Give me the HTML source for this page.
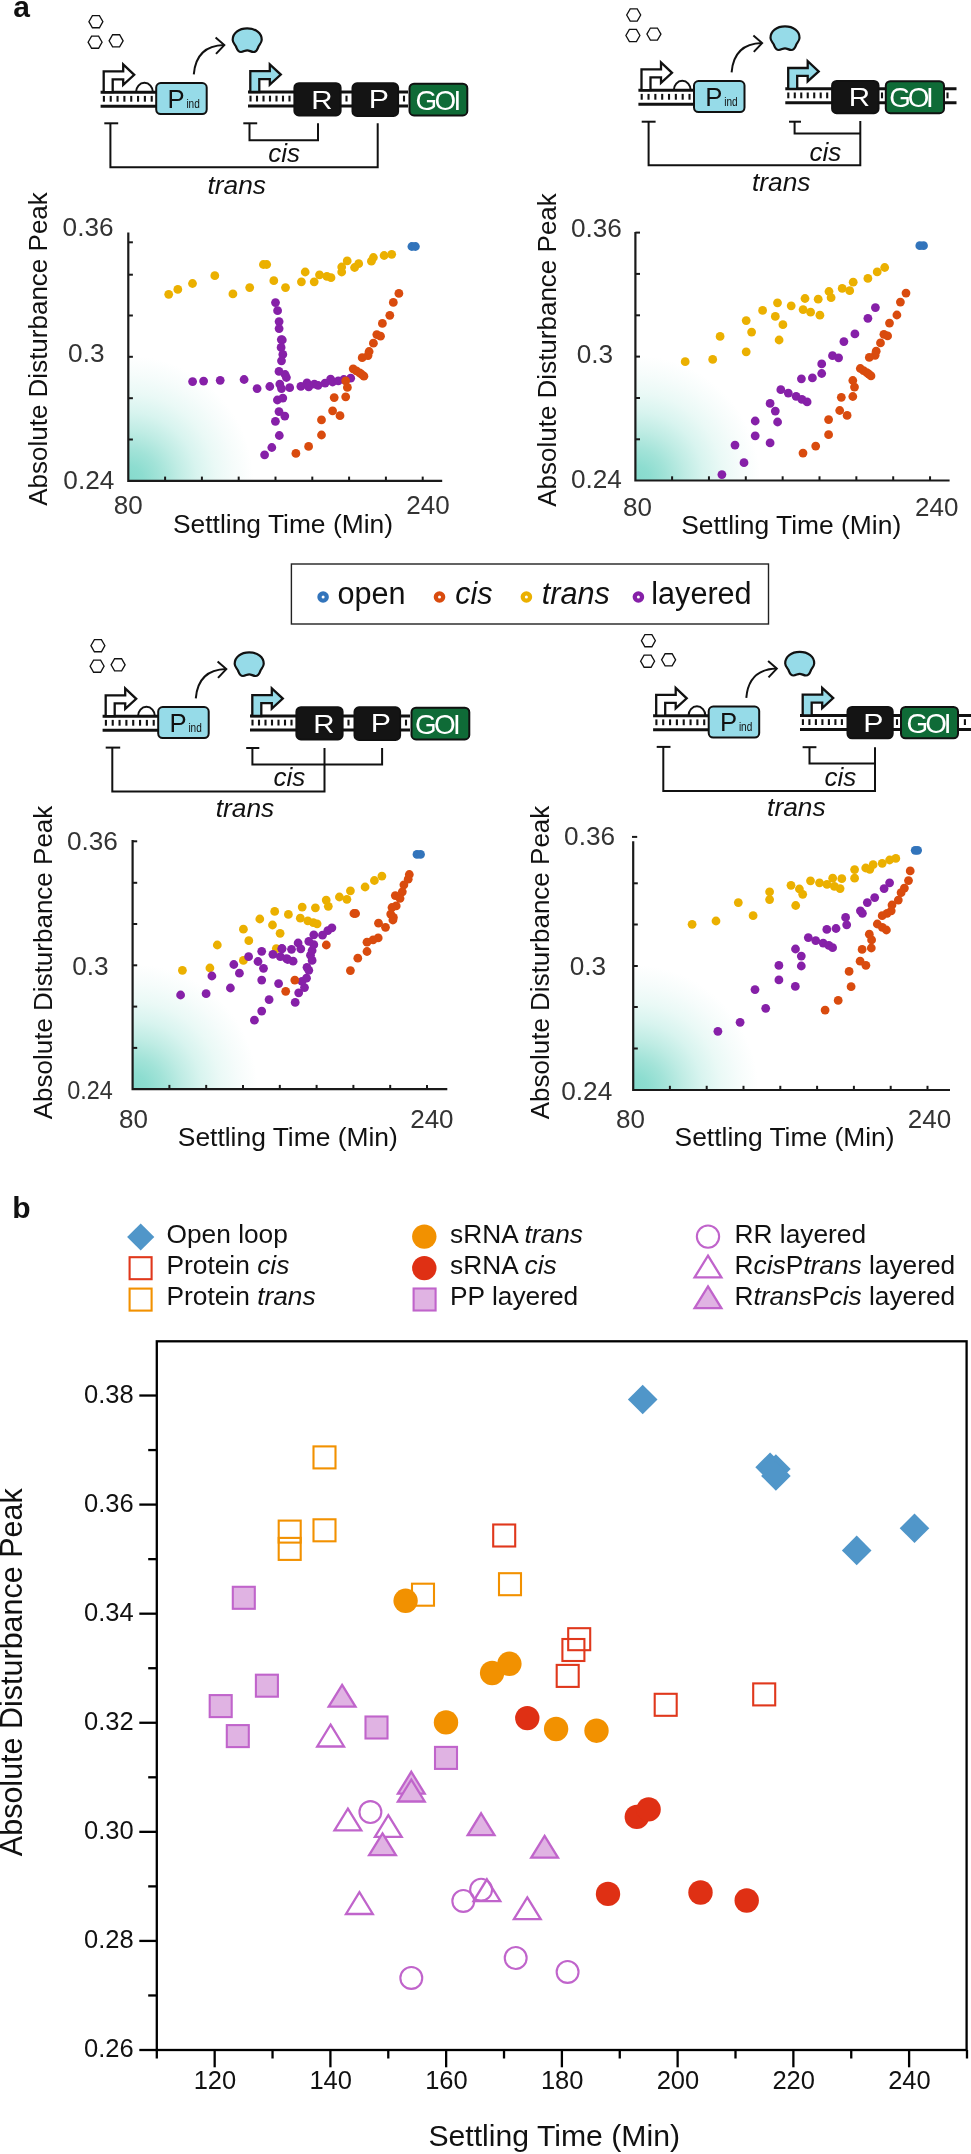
<!DOCTYPE html>
<html><head><meta charset="utf-8"><style>
html,body{margin:0;padding:0;background:#fff;}
svg{display:block;will-change:transform;}
text{font-family:"Liberation Sans", sans-serif;}
</style></head><body>
<svg width="971" height="2154" viewBox="0 0 971 2154">
<defs><radialGradient id="tg" cx="0" cy="1" r="1"><stop offset="0" stop-color="#85DACC"/><stop offset="0.12" stop-color="#8DDDD0"/><stop offset="0.25" stop-color="#A2E3D8"/><stop offset="0.4" stop-color="#BFECE4"/><stop offset="0.55" stop-color="#D8F4EF"/><stop offset="0.7" stop-color="#EAF9F6"/><stop offset="0.85" stop-color="#F6FCFB"/><stop offset="1" stop-color="#FFFFFF"/></radialGradient></defs>
<rect width="971" height="2154" fill="#fff"/>
<polygon points="102.9,21.7 99.4,27.76 92.4,27.76 88.9,21.7 92.4,15.64 99.4,15.64" fill="none" stroke="#111" stroke-width="1.3"/>
<polygon points="102.1,42.2 98.6,48.26 91.6,48.26 88.1,42.2 91.6,36.14 98.6,36.14" fill="none" stroke="#111" stroke-width="1.3"/>
<polygon points="123.1,40.8 119.6,46.86 112.6,46.86 109.1,40.8 112.6,34.74 119.6,34.74" fill="none" stroke="#111" stroke-width="1.3"/>
<line x1="100.6" y1="92.2" x2="157" y2="92.2" stroke="#111" stroke-width="2.9"/>
<line x1="100.6" y1="106.2" x2="157" y2="106.2" stroke="#111" stroke-width="2.9"/>
<rect x="102.85" y="95.9" width="2.1" height="5.8" fill="#111"/>
<rect x="109.68" y="95.9" width="2.1" height="5.8" fill="#111"/>
<rect x="116.51" y="95.9" width="2.1" height="5.8" fill="#111"/>
<rect x="123.34" y="95.9" width="2.1" height="5.8" fill="#111"/>
<rect x="130.17" y="95.9" width="2.1" height="5.8" fill="#111"/>
<rect x="137" y="95.9" width="2.1" height="5.8" fill="#111"/>
<rect x="143.83" y="95.9" width="2.1" height="5.8" fill="#111"/>
<rect x="150.66" y="95.9" width="2.1" height="5.8" fill="#111"/>
<polygon points="103.7,92.2 103.7,71.4 123.2,71.4 123.2,64.5 134.2,74.8 123.2,84.8 123.2,79.3 112.7,79.3 112.7,92.2" fill="#fff" stroke="#111" stroke-width="2.3" stroke-linejoin="miter"/>
<path d="M136,92.2 A8.45,9.4 0 0 1 152.9,92.2" fill="none" stroke="#111" stroke-width="2"/>
<rect x="156.2" y="83.1" width="50.5" height="31" rx="4.5" fill="#96DBE8" stroke="#111" stroke-width="2"/>
<text x="167.5" y="107.5" font-size="25.7" fill="#111" text-anchor="start">P</text>
<text x="186.4" y="107.5" font-size="12.9" fill="#111" text-anchor="start" textLength="13.4" lengthAdjust="spacingAndGlyphs">ind</text>
<path d="M193.8,74.3 Q196.2,45.8 224.1,45.1" fill="none" stroke="#111" stroke-width="2"/>
<path d="M215.6,37.5 L224.3,45.1 L216,53.9" fill="none" stroke="#111" stroke-width="2"/>
<path transform="translate(231.6,27.2)" d="M15.6,1.1 C23.9,1.1 30.4,5.8 30.1,12.8 C29.9,15.8 27.9,17.3 26.9,19.3 C25.9,21.8 25.4,24.8 21.9,24.8 C19.4,24.8 17.9,23.1 15.6,23.1 C13.4,23.1 11.9,24.8 9.4,24.8 C5.9,24.8 5.4,21.8 4.4,19.3 C3.4,17.3 1.2,15.8 1.1,12.8 C0.9,5.8 7.4,1.1 15.6,1.1 Z" fill="#96DBE8" stroke="#111" stroke-width="2.2"/>
<line x1="248" y1="92" x2="408" y2="92" stroke="#111" stroke-width="2.9"/>
<line x1="248" y1="106" x2="408" y2="106" stroke="#111" stroke-width="2.9"/>
<rect x="249.45" y="95.7" width="2.1" height="5.8" fill="#111"/>
<rect x="255.95" y="95.7" width="2.1" height="5.8" fill="#111"/>
<rect x="262.45" y="95.7" width="2.1" height="5.8" fill="#111"/>
<rect x="268.95" y="95.7" width="2.1" height="5.8" fill="#111"/>
<rect x="275.45" y="95.7" width="2.1" height="5.8" fill="#111"/>
<rect x="281.95" y="95.7" width="2.1" height="5.8" fill="#111"/>
<rect x="288.45" y="95.7" width="2.1" height="5.8" fill="#111"/>
<rect x="345.45" y="95.7" width="2.1" height="5.8" fill="#111"/>
<rect x="402.95" y="95.7" width="2.1" height="5.8" fill="#111"/>
<polygon points="250.3,92 250.3,71.2 269.8,71.2 269.8,64.3 280.8,74.6 269.8,84.6 269.8,79.1 259.3,79.1 259.3,92" fill="#96DBE8" stroke="#111" stroke-width="2.3" stroke-linejoin="miter"/>
<rect x="294.4" y="83.2" width="46.2" height="32.2" rx="4.5" fill="#141414" stroke="#111" stroke-width="2"/>
<text x="321.9" y="108.8" font-size="26.3" fill="#fff" text-anchor="middle" textLength="21.3" lengthAdjust="spacingAndGlyphs">R</text>
<rect x="352.5" y="83.3" width="45.6" height="32.6" rx="4.5" fill="#141414" stroke="#111" stroke-width="2"/>
<text x="378.9" y="108.3" font-size="26.3" fill="#fff" text-anchor="middle" textLength="20.2" lengthAdjust="spacingAndGlyphs">P</text>
<rect x="409.5" y="83.7" width="57.8" height="31.7" rx="4.5" fill="#0F6B37" stroke="#111" stroke-width="2"/>
<text x="438.3" y="109.7" font-size="27.8" fill="#fff" text-anchor="middle" textLength="45.8" lengthAdjust="spacing">GOI</text>
<polyline points="104.3,123.3 118.2,123.3" fill="none" stroke="#111" stroke-width="2"/>
<polyline points="110.4,123.3 110.4,167.2 377.7,167.2 377.7,123.3" fill="none" stroke="#111" stroke-width="2"/>
<polyline points="243.3,123.3 257.2,123.3" fill="none" stroke="#111" stroke-width="2"/>
<polyline points="249.5,123.3 249.5,140.3 318,140.3 318,123.3" fill="none" stroke="#111" stroke-width="2"/>
<text x="268.3" y="161.9" font-size="26" fill="#111" text-anchor="start" font-style="italic">cis</text>
<text x="207.5" y="194" font-size="26.3" fill="#111" text-anchor="start" font-style="italic">trans</text>
<polygon points="640.7,15 637.2,21.06 630.2,21.06 626.7,15 630.2,8.94 637.2,8.94" fill="none" stroke="#111" stroke-width="1.3"/>
<polygon points="639.9,35.5 636.4,41.56 629.4,41.56 625.9,35.5 629.4,29.44 636.4,29.44" fill="none" stroke="#111" stroke-width="1.3"/>
<polygon points="660.9,34.1 657.4,40.16 650.4,40.16 646.9,34.1 650.4,28.04 657.4,28.04" fill="none" stroke="#111" stroke-width="1.3"/>
<line x1="638.4" y1="90.2" x2="694.8" y2="90.2" stroke="#111" stroke-width="2.9"/>
<line x1="638.4" y1="104.2" x2="694.8" y2="104.2" stroke="#111" stroke-width="2.9"/>
<rect x="640.65" y="93.9" width="2.1" height="5.8" fill="#111"/>
<rect x="647.48" y="93.9" width="2.1" height="5.8" fill="#111"/>
<rect x="654.31" y="93.9" width="2.1" height="5.8" fill="#111"/>
<rect x="661.14" y="93.9" width="2.1" height="5.8" fill="#111"/>
<rect x="667.97" y="93.9" width="2.1" height="5.8" fill="#111"/>
<rect x="674.8" y="93.9" width="2.1" height="5.8" fill="#111"/>
<rect x="681.63" y="93.9" width="2.1" height="5.8" fill="#111"/>
<rect x="688.46" y="93.9" width="2.1" height="5.8" fill="#111"/>
<polygon points="641.5,90.2 641.5,69.4 661,69.4 661,62.5 672,72.8 661,82.8 661,77.3 650.5,77.3 650.5,90.2" fill="#fff" stroke="#111" stroke-width="2.3" stroke-linejoin="miter"/>
<path d="M673.8,90.2 A8.45,9.4 0 0 1 690.7,90.2" fill="none" stroke="#111" stroke-width="2"/>
<rect x="694" y="81.1" width="50.5" height="31" rx="4.5" fill="#96DBE8" stroke="#111" stroke-width="2"/>
<text x="705.3" y="105.5" font-size="25.7" fill="#111" text-anchor="start">P</text>
<text x="724.2" y="105.5" font-size="12.9" fill="#111" text-anchor="start" textLength="13.4" lengthAdjust="spacingAndGlyphs">ind</text>
<path d="M731.6,72.3 Q734,43.8 761.9,43.1" fill="none" stroke="#111" stroke-width="2"/>
<path d="M753.4,35.5 L762.1,43.1 L753.8,51.9" fill="none" stroke="#111" stroke-width="2"/>
<path transform="translate(769.4,25.2)" d="M15.6,1.1 C23.9,1.1 30.4,5.8 30.1,12.8 C29.9,15.8 27.9,17.3 26.9,19.3 C25.9,21.8 25.4,24.8 21.9,24.8 C19.4,24.8 17.9,23.1 15.6,23.1 C13.4,23.1 11.9,24.8 9.4,24.8 C5.9,24.8 5.4,21.8 4.4,19.3 C3.4,17.3 1.2,15.8 1.1,12.8 C0.9,5.8 7.4,1.1 15.6,1.1 Z" fill="#96DBE8" stroke="#111" stroke-width="2.2"/>
<line x1="785.3" y1="88.8" x2="956.5" y2="88.8" stroke="#111" stroke-width="2.9"/>
<line x1="785.3" y1="102.8" x2="956.5" y2="102.8" stroke="#111" stroke-width="2.9"/>
<rect x="787.25" y="92.5" width="2.1" height="5.8" fill="#111"/>
<rect x="793.73" y="92.5" width="2.1" height="5.8" fill="#111"/>
<rect x="800.21" y="92.5" width="2.1" height="5.8" fill="#111"/>
<rect x="806.69" y="92.5" width="2.1" height="5.8" fill="#111"/>
<rect x="813.17" y="92.5" width="2.1" height="5.8" fill="#111"/>
<rect x="819.65" y="92.5" width="2.1" height="5.8" fill="#111"/>
<rect x="826.13" y="92.5" width="2.1" height="5.8" fill="#111"/>
<rect x="880.95" y="92.5" width="2.1" height="5.8" fill="#111"/>
<rect x="946.45" y="92.5" width="2.1" height="5.8" fill="#111"/>
<polygon points="788.2,88.8 788.2,68 807.7,68 807.7,61.1 818.7,71.4 807.7,81.4 807.7,75.9 797.2,75.9 797.2,88.8" fill="#96DBE8" stroke="#111" stroke-width="2.3" stroke-linejoin="miter"/>
<rect x="832.1" y="81" width="46.4" height="32.2" rx="4.5" fill="#141414" stroke="#111" stroke-width="2"/>
<text x="859.4" y="106.2" font-size="26.3" fill="#fff" text-anchor="middle" textLength="21.3" lengthAdjust="spacingAndGlyphs">R</text>
<rect x="885.8" y="81.2" width="58.2" height="32" rx="4.5" fill="#0F6B37" stroke="#111" stroke-width="2"/>
<text x="911.5" y="107.2" font-size="27.8" fill="#fff" text-anchor="middle" textLength="44.6" lengthAdjust="spacing">GOI</text>
<polyline points="641.7,121.7 655.6,121.7" fill="none" stroke="#111" stroke-width="2"/>
<polyline points="648.6,121.7 648.6,165.3 860.3,165.3 860.3,121.1" fill="none" stroke="#111" stroke-width="2"/>
<polyline points="789,121.7 801,121.7" fill="none" stroke="#111" stroke-width="2"/>
<polyline points="794.6,121.7 794.6,133.6 860.3,133.6" fill="none" stroke="#111" stroke-width="2"/>
<text x="809.6" y="160.6" font-size="26" fill="#111" text-anchor="start" font-style="italic">cis</text>
<text x="752" y="191.2" font-size="26.3" fill="#111" text-anchor="start" font-style="italic">trans</text>
<polygon points="104.9,645.7 101.4,651.76 94.4,651.76 90.9,645.7 94.4,639.64 101.4,639.64" fill="none" stroke="#111" stroke-width="1.3"/>
<polygon points="104.1,666.2 100.6,672.26 93.6,672.26 90.1,666.2 93.6,660.14 100.6,660.14" fill="none" stroke="#111" stroke-width="1.3"/>
<polygon points="125.1,664.8 121.6,670.86 114.6,670.86 111.1,664.8 114.6,658.74 121.6,658.74" fill="none" stroke="#111" stroke-width="1.3"/>
<line x1="102.6" y1="716.2" x2="159" y2="716.2" stroke="#111" stroke-width="2.9"/>
<line x1="102.6" y1="730.2" x2="159" y2="730.2" stroke="#111" stroke-width="2.9"/>
<rect x="104.85" y="719.9" width="2.1" height="5.8" fill="#111"/>
<rect x="111.68" y="719.9" width="2.1" height="5.8" fill="#111"/>
<rect x="118.51" y="719.9" width="2.1" height="5.8" fill="#111"/>
<rect x="125.34" y="719.9" width="2.1" height="5.8" fill="#111"/>
<rect x="132.17" y="719.9" width="2.1" height="5.8" fill="#111"/>
<rect x="139" y="719.9" width="2.1" height="5.8" fill="#111"/>
<rect x="145.83" y="719.9" width="2.1" height="5.8" fill="#111"/>
<rect x="152.66" y="719.9" width="2.1" height="5.8" fill="#111"/>
<polygon points="105.7,716.2 105.7,695.4 125.2,695.4 125.2,688.5 136.2,698.8 125.2,708.8 125.2,703.3 114.7,703.3 114.7,716.2" fill="#fff" stroke="#111" stroke-width="2.3" stroke-linejoin="miter"/>
<path d="M138,716.2 A8.45,9.4 0 0 1 154.9,716.2" fill="none" stroke="#111" stroke-width="2"/>
<rect x="158.2" y="707.1" width="50.5" height="31" rx="4.5" fill="#96DBE8" stroke="#111" stroke-width="2"/>
<text x="169.5" y="731.5" font-size="25.7" fill="#111" text-anchor="start">P</text>
<text x="188.4" y="731.5" font-size="12.9" fill="#111" text-anchor="start" textLength="13.4" lengthAdjust="spacingAndGlyphs">ind</text>
<path d="M195.8,698.3 Q198.2,669.8 226.1,669.1" fill="none" stroke="#111" stroke-width="2"/>
<path d="M217.6,661.5 L226.3,669.1 L218,677.9" fill="none" stroke="#111" stroke-width="2"/>
<path transform="translate(233.6,651.2)" d="M15.6,1.1 C23.9,1.1 30.4,5.8 30.1,12.8 C29.9,15.8 27.9,17.3 26.9,19.3 C25.9,21.8 25.4,24.8 21.9,24.8 C19.4,24.8 17.9,23.1 15.6,23.1 C13.4,23.1 11.9,24.8 9.4,24.8 C5.9,24.8 5.4,21.8 4.4,19.3 C3.4,17.3 1.2,15.8 1.1,12.8 C0.9,5.8 7.4,1.1 15.6,1.1 Z" fill="#96DBE8" stroke="#111" stroke-width="2.2"/>
<line x1="250" y1="716" x2="410" y2="716" stroke="#111" stroke-width="2.9"/>
<line x1="250" y1="730" x2="410" y2="730" stroke="#111" stroke-width="2.9"/>
<rect x="251.45" y="719.7" width="2.1" height="5.8" fill="#111"/>
<rect x="257.95" y="719.7" width="2.1" height="5.8" fill="#111"/>
<rect x="264.45" y="719.7" width="2.1" height="5.8" fill="#111"/>
<rect x="270.95" y="719.7" width="2.1" height="5.8" fill="#111"/>
<rect x="277.45" y="719.7" width="2.1" height="5.8" fill="#111"/>
<rect x="283.95" y="719.7" width="2.1" height="5.8" fill="#111"/>
<rect x="290.45" y="719.7" width="2.1" height="5.8" fill="#111"/>
<rect x="347.45" y="719.7" width="2.1" height="5.8" fill="#111"/>
<rect x="404.95" y="719.7" width="2.1" height="5.8" fill="#111"/>
<polygon points="252.3,716 252.3,695.2 271.8,695.2 271.8,688.3 282.8,698.6 271.8,708.6 271.8,703.1 261.3,703.1 261.3,716" fill="#96DBE8" stroke="#111" stroke-width="2.3" stroke-linejoin="miter"/>
<rect x="296.4" y="707.2" width="46.2" height="32.2" rx="4.5" fill="#141414" stroke="#111" stroke-width="2"/>
<text x="323.9" y="732.8" font-size="26.3" fill="#fff" text-anchor="middle" textLength="21.3" lengthAdjust="spacingAndGlyphs">R</text>
<rect x="354.5" y="707.3" width="45.6" height="32.6" rx="4.5" fill="#141414" stroke="#111" stroke-width="2"/>
<text x="380.9" y="732.3" font-size="26.3" fill="#fff" text-anchor="middle" textLength="20.2" lengthAdjust="spacingAndGlyphs">P</text>
<rect x="411.5" y="707.7" width="57.8" height="31.7" rx="4.5" fill="#0F6B37" stroke="#111" stroke-width="2"/>
<text x="437.9" y="733.7" font-size="27.8" fill="#fff" text-anchor="middle" textLength="45.8" lengthAdjust="spacing">GOI</text>
<polyline points="105.7,747.6 120.2,747.6" fill="none" stroke="#111" stroke-width="2"/>
<polyline points="112.3,747.6 112.3,791.5 324.5,791.5 324.5,748" fill="none" stroke="#111" stroke-width="2"/>
<polyline points="246.2,748 259.3,748" fill="none" stroke="#111" stroke-width="2"/>
<polyline points="252.4,748 252.4,764.5 382.1,764.5 382.1,748" fill="none" stroke="#111" stroke-width="2"/>
<text x="273.4" y="785.8" font-size="26" fill="#111" text-anchor="start" font-style="italic">cis</text>
<text x="215.8" y="817.4" font-size="26.3" fill="#111" text-anchor="start" font-style="italic">trans</text>
<polygon points="655.4,640.7 651.9,646.76 644.9,646.76 641.4,640.7 644.9,634.64 651.9,634.64" fill="none" stroke="#111" stroke-width="1.3"/>
<polygon points="654.6,661.2 651.1,667.26 644.1,667.26 640.6,661.2 644.1,655.14 651.1,655.14" fill="none" stroke="#111" stroke-width="1.3"/>
<polygon points="675.6,659.8 672.1,665.86 665.1,665.86 661.6,659.8 665.1,653.74 672.1,653.74" fill="none" stroke="#111" stroke-width="1.3"/>
<line x1="653.1" y1="715.7" x2="709.5" y2="715.7" stroke="#111" stroke-width="2.9"/>
<line x1="653.1" y1="729.7" x2="709.5" y2="729.7" stroke="#111" stroke-width="2.9"/>
<rect x="655.35" y="719.4" width="2.1" height="5.8" fill="#111"/>
<rect x="662.18" y="719.4" width="2.1" height="5.8" fill="#111"/>
<rect x="669.01" y="719.4" width="2.1" height="5.8" fill="#111"/>
<rect x="675.84" y="719.4" width="2.1" height="5.8" fill="#111"/>
<rect x="682.67" y="719.4" width="2.1" height="5.8" fill="#111"/>
<rect x="689.5" y="719.4" width="2.1" height="5.8" fill="#111"/>
<rect x="696.33" y="719.4" width="2.1" height="5.8" fill="#111"/>
<rect x="703.16" y="719.4" width="2.1" height="5.8" fill="#111"/>
<polygon points="656.2,715.7 656.2,694.9 675.7,694.9 675.7,688 686.7,698.3 675.7,708.3 675.7,702.8 665.2,702.8 665.2,715.7" fill="#fff" stroke="#111" stroke-width="2.3" stroke-linejoin="miter"/>
<path d="M688.5,715.7 A8.45,9.4 0 0 1 705.4,715.7" fill="none" stroke="#111" stroke-width="2"/>
<rect x="708.7" y="706.6" width="50.5" height="31" rx="4.5" fill="#96DBE8" stroke="#111" stroke-width="2"/>
<text x="720" y="731" font-size="25.7" fill="#111" text-anchor="start">P</text>
<text x="738.9" y="731" font-size="12.9" fill="#111" text-anchor="start" textLength="13.4" lengthAdjust="spacingAndGlyphs">ind</text>
<path d="M746.3,697.8 Q748.7,669.3 776.6,668.6" fill="none" stroke="#111" stroke-width="2"/>
<path d="M768.1,661 L776.8,668.6 L768.5,677.4" fill="none" stroke="#111" stroke-width="2"/>
<path transform="translate(784.1,650.7)" d="M15.6,1.1 C23.9,1.1 30.4,5.8 30.1,12.8 C29.9,15.8 27.9,17.3 26.9,19.3 C25.9,21.8 25.4,24.8 21.9,24.8 C19.4,24.8 17.9,23.1 15.6,23.1 C13.4,23.1 11.9,24.8 9.4,24.8 C5.9,24.8 5.4,21.8 4.4,19.3 C3.4,17.3 1.2,15.8 1.1,12.8 C0.9,5.8 7.4,1.1 15.6,1.1 Z" fill="#96DBE8" stroke="#111" stroke-width="2.2"/>
<line x1="800" y1="715.5" x2="971" y2="715.5" stroke="#111" stroke-width="2.9"/>
<line x1="800" y1="729.5" x2="971" y2="729.5" stroke="#111" stroke-width="2.9"/>
<rect x="801.85" y="719.2" width="2.1" height="5.8" fill="#111"/>
<rect x="808.35" y="719.2" width="2.1" height="5.8" fill="#111"/>
<rect x="814.85" y="719.2" width="2.1" height="5.8" fill="#111"/>
<rect x="821.35" y="719.2" width="2.1" height="5.8" fill="#111"/>
<rect x="827.85" y="719.2" width="2.1" height="5.8" fill="#111"/>
<rect x="834.35" y="719.2" width="2.1" height="5.8" fill="#111"/>
<rect x="840.85" y="719.2" width="2.1" height="5.8" fill="#111"/>
<rect x="895.95" y="719.2" width="2.1" height="5.8" fill="#111"/>
<rect x="963.85" y="719.2" width="2.1" height="5.8" fill="#111"/>
<polygon points="802.7,715.5 802.7,694.7 822.2,694.7 822.2,687.8 833.2,698.1 822.2,708.1 822.2,702.6 811.7,702.6 811.7,715.5" fill="#96DBE8" stroke="#111" stroke-width="2.3" stroke-linejoin="miter"/>
<rect x="847.5" y="706.9" width="45.2" height="31.4" rx="4.5" fill="#141414" stroke="#111" stroke-width="2"/>
<text x="873.4" y="731.6" font-size="26.3" fill="#fff" text-anchor="middle" textLength="20.2" lengthAdjust="spacingAndGlyphs">P</text>
<rect x="901" y="706.9" width="57" height="31.4" rx="4.5" fill="#0F6B37" stroke="#111" stroke-width="2"/>
<text x="929" y="732.6" font-size="27.8" fill="#fff" text-anchor="middle" textLength="45" lengthAdjust="spacing">GOI</text>
<polyline points="656.7,746.9 670.5,746.9" fill="none" stroke="#111" stroke-width="2"/>
<polyline points="663.3,746.9 663.3,791.1 875,791.1 875,747.2" fill="none" stroke="#111" stroke-width="2"/>
<polyline points="802.6,747.2 816.4,747.2" fill="none" stroke="#111" stroke-width="2"/>
<polyline points="809.5,747.2 809.5,763.5 875,763.5" fill="none" stroke="#111" stroke-width="2"/>
<text x="824.4" y="785.6" font-size="26" fill="#111" text-anchor="start" font-style="italic">cis</text>
<text x="767.1" y="816" font-size="26.3" fill="#111" text-anchor="start" font-style="italic">trans</text>
<text x="13.3" y="17.3" font-size="30" fill="#111" text-anchor="start" font-weight="bold">a</text>
<text x="12.3" y="1217.8" font-size="30" fill="#111" text-anchor="start" font-weight="bold">b</text>
<rect x="128.3" y="355.8" width="125" height="125" fill="url(#tg)"/>
<circle cx="168.7" cy="294.3" r="4.4" fill="#EBB000"/>
<circle cx="177.8" cy="289.4" r="4.4" fill="#EBB000"/>
<circle cx="192.5" cy="283.5" r="4.4" fill="#EBB000"/>
<circle cx="214.8" cy="275.7" r="4.4" fill="#EBB000"/>
<circle cx="232.9" cy="293.9" r="4.4" fill="#EBB000"/>
<circle cx="249.7" cy="287.6" r="4.4" fill="#EBB000"/>
<circle cx="263.4" cy="264.5" r="4.4" fill="#EBB000"/>
<circle cx="266.7" cy="264.5" r="4.4" fill="#EBB000"/>
<circle cx="273.8" cy="280.7" r="4.4" fill="#EBB000"/>
<circle cx="285.5" cy="287.6" r="4.4" fill="#EBB000"/>
<circle cx="301.4" cy="281.8" r="4.4" fill="#EBB000"/>
<circle cx="305.2" cy="272" r="4.4" fill="#EBB000"/>
<circle cx="314.2" cy="281.8" r="4.4" fill="#EBB000"/>
<circle cx="319.5" cy="274.8" r="4.4" fill="#EBB000"/>
<circle cx="326.9" cy="276.4" r="4.4" fill="#EBB000"/>
<circle cx="331" cy="277.7" r="4.4" fill="#EBB000"/>
<circle cx="341.7" cy="267" r="4.4" fill="#EBB000"/>
<circle cx="341.7" cy="272" r="4.4" fill="#EBB000"/>
<circle cx="347.2" cy="260.9" r="4.4" fill="#EBB000"/>
<circle cx="354.6" cy="267.5" r="4.4" fill="#EBB000"/>
<circle cx="358.7" cy="263.7" r="4.4" fill="#EBB000"/>
<circle cx="371.4" cy="261.2" r="4.4" fill="#EBB000"/>
<circle cx="373.4" cy="257.5" r="4.4" fill="#EBB000"/>
<circle cx="384.1" cy="255.5" r="4.4" fill="#EBB000"/>
<circle cx="391.7" cy="254.3" r="4.4" fill="#EBB000"/>
<circle cx="275.5" cy="302.6" r="4.4" fill="#8620A8"/>
<circle cx="277.6" cy="310.7" r="4.4" fill="#8620A8"/>
<circle cx="279.1" cy="321.6" r="4.4" fill="#8620A8"/>
<circle cx="279.1" cy="328.6" r="4.4" fill="#8620A8"/>
<circle cx="281.3" cy="339.6" r="4.4" fill="#8620A8"/>
<circle cx="282.3" cy="340" r="4.4" fill="#8620A8"/>
<circle cx="281.1" cy="347.4" r="4.4" fill="#8620A8"/>
<circle cx="282.8" cy="354.4" r="4.4" fill="#8620A8"/>
<circle cx="281.5" cy="360.8" r="4.4" fill="#8620A8"/>
<circle cx="279" cy="371.4" r="4.4" fill="#8620A8"/>
<circle cx="285.1" cy="374.5" r="4.4" fill="#8620A8"/>
<circle cx="286.4" cy="377.5" r="4.4" fill="#8620A8"/>
<circle cx="269.8" cy="386.5" r="4.4" fill="#8620A8"/>
<circle cx="279.8" cy="384.1" r="4.4" fill="#8620A8"/>
<circle cx="281.5" cy="388.6" r="4.4" fill="#8620A8"/>
<circle cx="289.7" cy="387.7" r="4.4" fill="#8620A8"/>
<circle cx="277.4" cy="400" r="4.4" fill="#8620A8"/>
<circle cx="282.8" cy="398.1" r="4.4" fill="#8620A8"/>
<circle cx="279" cy="411.6" r="4.4" fill="#8620A8"/>
<circle cx="284.8" cy="416.1" r="4.4" fill="#8620A8"/>
<circle cx="275.4" cy="421.3" r="4.4" fill="#8620A8"/>
<circle cx="279.3" cy="435.5" r="4.4" fill="#8620A8"/>
<circle cx="271.8" cy="447.5" r="4.4" fill="#8620A8"/>
<circle cx="264.6" cy="454.8" r="4.4" fill="#8620A8"/>
<circle cx="192.6" cy="381.6" r="4.4" fill="#8620A8"/>
<circle cx="203.6" cy="381.1" r="4.4" fill="#8620A8"/>
<circle cx="220.2" cy="380.3" r="4.4" fill="#8620A8"/>
<circle cx="244.1" cy="379.5" r="4.4" fill="#8620A8"/>
<circle cx="257.1" cy="388.6" r="4.4" fill="#8620A8"/>
<circle cx="300.9" cy="386.4" r="4.4" fill="#8620A8"/>
<circle cx="307" cy="382.8" r="4.4" fill="#8620A8"/>
<circle cx="308.7" cy="386.9" r="4.4" fill="#8620A8"/>
<circle cx="314.4" cy="384.1" r="4.4" fill="#8620A8"/>
<circle cx="318.1" cy="385.3" r="4.4" fill="#8620A8"/>
<circle cx="325.1" cy="383.1" r="4.4" fill="#8620A8"/>
<circle cx="330.6" cy="379.2" r="4.4" fill="#8620A8"/>
<circle cx="332.6" cy="382" r="4.4" fill="#8620A8"/>
<circle cx="338.3" cy="380.8" r="4.4" fill="#8620A8"/>
<circle cx="343.8" cy="379.5" r="4.4" fill="#8620A8"/>
<circle cx="350.7" cy="378.2" r="4.4" fill="#8620A8"/>
<circle cx="398.9" cy="293.4" r="4.4" fill="#D94B0E"/>
<circle cx="393.3" cy="302.4" r="4.4" fill="#D94B0E"/>
<circle cx="389.8" cy="315.3" r="4.4" fill="#D94B0E"/>
<circle cx="382.4" cy="323.4" r="4.4" fill="#D94B0E"/>
<circle cx="376.8" cy="334.6" r="4.4" fill="#D94B0E"/>
<circle cx="380.5" cy="336.2" r="4.4" fill="#D94B0E"/>
<circle cx="373.4" cy="343.2" r="4.4" fill="#D94B0E"/>
<circle cx="369.1" cy="351.5" r="4.4" fill="#D94B0E"/>
<circle cx="368" cy="355.6" r="4.4" fill="#D94B0E"/>
<circle cx="362.2" cy="357.7" r="4.4" fill="#D94B0E"/>
<circle cx="353.2" cy="368.8" r="4.4" fill="#D94B0E"/>
<circle cx="359.7" cy="372.9" r="4.4" fill="#D94B0E"/>
<circle cx="363.9" cy="376.2" r="4.4" fill="#D94B0E"/>
<circle cx="356.4" cy="370.9" r="4.4" fill="#D94B0E"/>
<circle cx="361.8" cy="374.5" r="4.4" fill="#D94B0E"/>
<circle cx="345.7" cy="380.8" r="4.4" fill="#D94B0E"/>
<circle cx="347.4" cy="387.4" r="4.4" fill="#D94B0E"/>
<circle cx="334.2" cy="397.6" r="4.4" fill="#D94B0E"/>
<circle cx="345.7" cy="396.8" r="4.4" fill="#D94B0E"/>
<circle cx="332.6" cy="410.8" r="4.4" fill="#D94B0E"/>
<circle cx="340" cy="415.7" r="4.4" fill="#D94B0E"/>
<circle cx="321.5" cy="419.9" r="4.4" fill="#D94B0E"/>
<circle cx="321.5" cy="435" r="4.4" fill="#D94B0E"/>
<circle cx="308.6" cy="446.4" r="4.4" fill="#D94B0E"/>
<circle cx="295.9" cy="453.4" r="4.4" fill="#D94B0E"/>
<circle cx="411.9" cy="246.5" r="4.4" fill="#3274BB"/>
<circle cx="415.4" cy="246.5" r="4.4" fill="#3274BB"/>
<path d="M128.3,232.5 V480.8 H442.2" fill="none" stroke="#1a1a1a" stroke-width="2.2"/>
<line x1="128.3" y1="242.3" x2="132.9" y2="242.3" stroke="#1a1a1a" stroke-width="2"/>
<line x1="128.3" y1="274.7" x2="132.9" y2="274.7" stroke="#1a1a1a" stroke-width="2"/>
<line x1="128.3" y1="315.5" x2="132.9" y2="315.5" stroke="#1a1a1a" stroke-width="2"/>
<line x1="128.3" y1="356.8" x2="132.9" y2="356.8" stroke="#1a1a1a" stroke-width="2"/>
<line x1="128.3" y1="398.2" x2="132.9" y2="398.2" stroke="#1a1a1a" stroke-width="2"/>
<line x1="128.3" y1="439.5" x2="132.9" y2="439.5" stroke="#1a1a1a" stroke-width="2"/>
<line x1="165.1" y1="480.8" x2="165.1" y2="476.6" stroke="#1a1a1a" stroke-width="2"/>
<line x1="201.9" y1="480.8" x2="201.9" y2="476.6" stroke="#1a1a1a" stroke-width="2"/>
<line x1="238.7" y1="480.8" x2="238.7" y2="476.6" stroke="#1a1a1a" stroke-width="2"/>
<line x1="275.5" y1="480.8" x2="275.5" y2="476.6" stroke="#1a1a1a" stroke-width="2"/>
<line x1="312.3" y1="480.8" x2="312.3" y2="476.6" stroke="#1a1a1a" stroke-width="2"/>
<line x1="349.1" y1="480.8" x2="349.1" y2="476.6" stroke="#1a1a1a" stroke-width="2"/>
<line x1="385.9" y1="480.8" x2="385.9" y2="476.6" stroke="#1a1a1a" stroke-width="2"/>
<line x1="422.7" y1="480.8" x2="422.7" y2="476.6" stroke="#1a1a1a" stroke-width="2"/>
<text x="88.05" y="236.1" font-size="26.2" fill="#333" text-anchor="middle">0.36</text>
<text x="86.3" y="361.8" font-size="26.2" fill="#333" text-anchor="middle">0.3</text>
<text x="88.8" y="488.5" font-size="26.2" fill="#333" text-anchor="middle">0.24</text>
<text x="128.2" y="513.9" font-size="26" fill="#333" text-anchor="middle">80</text>
<text x="428" y="514.4" font-size="26" fill="#333" text-anchor="middle">240</text>
<text x="283" y="533.2" font-size="26.4" fill="#111" text-anchor="middle">Settling Time (Min)</text>
<text x="0" y="0" font-size="26" fill="#111" text-anchor="middle" transform="translate(47.2,349) rotate(-90)">Absolute Disturbance Peak</text>
<rect x="635.4" y="355.5" width="125" height="125" fill="url(#tg)"/>
<circle cx="685.2" cy="361.7" r="4.4" fill="#EBB000"/>
<circle cx="712.7" cy="359.4" r="4.4" fill="#EBB000"/>
<circle cx="720.1" cy="336.4" r="4.4" fill="#EBB000"/>
<circle cx="746.2" cy="320.6" r="4.4" fill="#EBB000"/>
<circle cx="746.2" cy="351.8" r="4.4" fill="#EBB000"/>
<circle cx="751.6" cy="332.1" r="4.4" fill="#EBB000"/>
<circle cx="762.6" cy="310.4" r="4.4" fill="#EBB000"/>
<circle cx="777.5" cy="302.8" r="4.4" fill="#EBB000"/>
<circle cx="775.3" cy="316.4" r="4.4" fill="#EBB000"/>
<circle cx="782.9" cy="324.7" r="4.4" fill="#EBB000"/>
<circle cx="779.1" cy="340" r="4.4" fill="#EBB000"/>
<circle cx="791.2" cy="305.8" r="4.4" fill="#EBB000"/>
<circle cx="805" cy="298.5" r="4.4" fill="#EBB000"/>
<circle cx="803.1" cy="309.6" r="4.4" fill="#EBB000"/>
<circle cx="810.6" cy="312.2" r="4.4" fill="#EBB000"/>
<circle cx="818.2" cy="299.2" r="4.4" fill="#EBB000"/>
<circle cx="819.9" cy="315.2" r="4.4" fill="#EBB000"/>
<circle cx="829" cy="291.5" r="4.4" fill="#EBB000"/>
<circle cx="831.1" cy="297.7" r="4.4" fill="#EBB000"/>
<circle cx="842.2" cy="288.4" r="4.4" fill="#EBB000"/>
<circle cx="849.7" cy="290.7" r="4.4" fill="#EBB000"/>
<circle cx="853.2" cy="282.2" r="4.4" fill="#EBB000"/>
<circle cx="867.9" cy="278.4" r="4.4" fill="#EBB000"/>
<circle cx="877.2" cy="271.9" r="4.4" fill="#EBB000"/>
<circle cx="884.7" cy="267.5" r="4.4" fill="#EBB000"/>
<circle cx="875.4" cy="307.6" r="4.4" fill="#8620A8"/>
<circle cx="867.9" cy="318.3" r="4.4" fill="#8620A8"/>
<circle cx="854.9" cy="333.9" r="4.4" fill="#8620A8"/>
<circle cx="843.9" cy="341.6" r="4.4" fill="#8620A8"/>
<circle cx="832.5" cy="355.7" r="4.4" fill="#8620A8"/>
<circle cx="838.6" cy="357.8" r="4.4" fill="#8620A8"/>
<circle cx="821.7" cy="363.9" r="4.4" fill="#8620A8"/>
<circle cx="821.7" cy="373.5" r="4.4" fill="#8620A8"/>
<circle cx="812.4" cy="377.9" r="4.4" fill="#8620A8"/>
<circle cx="801.4" cy="378.8" r="4.4" fill="#8620A8"/>
<circle cx="780.8" cy="389.7" r="4.4" fill="#8620A8"/>
<circle cx="788.3" cy="393.1" r="4.4" fill="#8620A8"/>
<circle cx="796.1" cy="396.3" r="4.4" fill="#8620A8"/>
<circle cx="801.9" cy="399.4" r="4.4" fill="#8620A8"/>
<circle cx="807.1" cy="401.9" r="4.4" fill="#8620A8"/>
<circle cx="770.1" cy="403.4" r="4.4" fill="#8620A8"/>
<circle cx="775.3" cy="411.1" r="4.4" fill="#8620A8"/>
<circle cx="755.2" cy="421" r="4.4" fill="#8620A8"/>
<circle cx="777.6" cy="422" r="4.4" fill="#8620A8"/>
<circle cx="755.2" cy="435.8" r="4.4" fill="#8620A8"/>
<circle cx="770.1" cy="442.9" r="4.4" fill="#8620A8"/>
<circle cx="735" cy="445.1" r="4.4" fill="#8620A8"/>
<circle cx="744" cy="462.7" r="4.4" fill="#8620A8"/>
<circle cx="721.9" cy="474.6" r="4.4" fill="#8620A8"/>
<circle cx="906" cy="293.1" r="4.4" fill="#D94B0E"/>
<circle cx="900.4" cy="302.1" r="4.4" fill="#D94B0E"/>
<circle cx="896.9" cy="315" r="4.4" fill="#D94B0E"/>
<circle cx="889.5" cy="323.1" r="4.4" fill="#D94B0E"/>
<circle cx="883.9" cy="334.3" r="4.4" fill="#D94B0E"/>
<circle cx="887.6" cy="335.9" r="4.4" fill="#D94B0E"/>
<circle cx="880.5" cy="342.9" r="4.4" fill="#D94B0E"/>
<circle cx="876.2" cy="351.2" r="4.4" fill="#D94B0E"/>
<circle cx="875.1" cy="355.3" r="4.4" fill="#D94B0E"/>
<circle cx="869.3" cy="357.4" r="4.4" fill="#D94B0E"/>
<circle cx="860.3" cy="368.5" r="4.4" fill="#D94B0E"/>
<circle cx="866.8" cy="372.6" r="4.4" fill="#D94B0E"/>
<circle cx="871" cy="375.9" r="4.4" fill="#D94B0E"/>
<circle cx="863.5" cy="370.6" r="4.4" fill="#D94B0E"/>
<circle cx="868.9" cy="374.2" r="4.4" fill="#D94B0E"/>
<circle cx="852.8" cy="380.5" r="4.4" fill="#D94B0E"/>
<circle cx="854.5" cy="387.1" r="4.4" fill="#D94B0E"/>
<circle cx="841.3" cy="397.3" r="4.4" fill="#D94B0E"/>
<circle cx="852.8" cy="396.5" r="4.4" fill="#D94B0E"/>
<circle cx="839.7" cy="410.5" r="4.4" fill="#D94B0E"/>
<circle cx="847.1" cy="415.4" r="4.4" fill="#D94B0E"/>
<circle cx="828.6" cy="419.6" r="4.4" fill="#D94B0E"/>
<circle cx="828.6" cy="434.7" r="4.4" fill="#D94B0E"/>
<circle cx="815.7" cy="446.1" r="4.4" fill="#D94B0E"/>
<circle cx="803" cy="453.1" r="4.4" fill="#D94B0E"/>
<circle cx="919.8" cy="245.7" r="4.4" fill="#3274BB"/>
<circle cx="923.5" cy="245.7" r="4.4" fill="#3274BB"/>
<path d="M635.4,232 V480.5 H949.6" fill="none" stroke="#1a1a1a" stroke-width="2.2"/>
<line x1="635.4" y1="232.6" x2="640" y2="232.6" stroke="#1a1a1a" stroke-width="2"/>
<line x1="635.4" y1="273.9" x2="640" y2="273.9" stroke="#1a1a1a" stroke-width="2"/>
<line x1="635.4" y1="315.3" x2="640" y2="315.3" stroke="#1a1a1a" stroke-width="2"/>
<line x1="635.4" y1="356.6" x2="640" y2="356.6" stroke="#1a1a1a" stroke-width="2"/>
<line x1="635.4" y1="398" x2="640" y2="398" stroke="#1a1a1a" stroke-width="2"/>
<line x1="635.4" y1="439.3" x2="640" y2="439.3" stroke="#1a1a1a" stroke-width="2"/>
<line x1="672.1" y1="480.5" x2="672.1" y2="476.3" stroke="#1a1a1a" stroke-width="2"/>
<line x1="708.95" y1="480.5" x2="708.95" y2="476.3" stroke="#1a1a1a" stroke-width="2"/>
<line x1="745.8" y1="480.5" x2="745.8" y2="476.3" stroke="#1a1a1a" stroke-width="2"/>
<line x1="782.65" y1="480.5" x2="782.65" y2="476.3" stroke="#1a1a1a" stroke-width="2"/>
<line x1="819.5" y1="480.5" x2="819.5" y2="476.3" stroke="#1a1a1a" stroke-width="2"/>
<line x1="856.35" y1="480.5" x2="856.35" y2="476.3" stroke="#1a1a1a" stroke-width="2"/>
<line x1="893.2" y1="480.5" x2="893.2" y2="476.3" stroke="#1a1a1a" stroke-width="2"/>
<line x1="930.05" y1="480.5" x2="930.05" y2="476.3" stroke="#1a1a1a" stroke-width="2"/>
<text x="596.45" y="237.4" font-size="26.2" fill="#333" text-anchor="middle">0.36</text>
<text x="594.95" y="363" font-size="26.2" fill="#333" text-anchor="middle">0.3</text>
<text x="596.45" y="488.4" font-size="26.2" fill="#333" text-anchor="middle">0.24</text>
<text x="637.5" y="515.6" font-size="26" fill="#333" text-anchor="middle">80</text>
<text x="936.8" y="516.2" font-size="26" fill="#333" text-anchor="middle">240</text>
<text x="791.2" y="533.5" font-size="26.4" fill="#111" text-anchor="middle">Settling Time (Min)</text>
<text x="0" y="0" font-size="26" fill="#111" text-anchor="middle" transform="translate(555.7,350) rotate(-90)">Absolute Disturbance Peak</text>
<rect x="132.6" y="964.1" width="125" height="125" fill="url(#tg)"/>
<circle cx="182.4" cy="970.3" r="4.4" fill="#EBB000"/>
<circle cx="209.9" cy="968" r="4.4" fill="#EBB000"/>
<circle cx="217.3" cy="945" r="4.4" fill="#EBB000"/>
<circle cx="243.4" cy="929.2" r="4.4" fill="#EBB000"/>
<circle cx="243.4" cy="960.4" r="4.4" fill="#EBB000"/>
<circle cx="248.8" cy="940.7" r="4.4" fill="#EBB000"/>
<circle cx="259.8" cy="919" r="4.4" fill="#EBB000"/>
<circle cx="274.7" cy="911.4" r="4.4" fill="#EBB000"/>
<circle cx="272.5" cy="925" r="4.4" fill="#EBB000"/>
<circle cx="280.1" cy="933.3" r="4.4" fill="#EBB000"/>
<circle cx="276.3" cy="948.6" r="4.4" fill="#EBB000"/>
<circle cx="288.4" cy="914.4" r="4.4" fill="#EBB000"/>
<circle cx="302.2" cy="907.1" r="4.4" fill="#EBB000"/>
<circle cx="300.3" cy="918.2" r="4.4" fill="#EBB000"/>
<circle cx="307.8" cy="920.8" r="4.4" fill="#EBB000"/>
<circle cx="315.4" cy="907.8" r="4.4" fill="#EBB000"/>
<circle cx="317.1" cy="923.8" r="4.4" fill="#EBB000"/>
<circle cx="326.2" cy="900.1" r="4.4" fill="#EBB000"/>
<circle cx="328.3" cy="906.3" r="4.4" fill="#EBB000"/>
<circle cx="339.4" cy="897" r="4.4" fill="#EBB000"/>
<circle cx="346.9" cy="899.3" r="4.4" fill="#EBB000"/>
<circle cx="350.4" cy="890.8" r="4.4" fill="#EBB000"/>
<circle cx="365.1" cy="887" r="4.4" fill="#EBB000"/>
<circle cx="374.4" cy="880.5" r="4.4" fill="#EBB000"/>
<circle cx="381.9" cy="876.1" r="4.4" fill="#EBB000"/>
<circle cx="313.3" cy="922.6" r="4.4" fill="#EBB000"/>
<circle cx="180.6" cy="995" r="4.4" fill="#8620A8"/>
<circle cx="206.1" cy="993.7" r="4.4" fill="#8620A8"/>
<circle cx="211.9" cy="976" r="4.4" fill="#8620A8"/>
<circle cx="230.4" cy="988" r="4.4" fill="#8620A8"/>
<circle cx="233.8" cy="964.5" r="4.4" fill="#8620A8"/>
<circle cx="239.4" cy="973.2" r="4.4" fill="#8620A8"/>
<circle cx="248.6" cy="956.7" r="4.4" fill="#8620A8"/>
<circle cx="258" cy="961.5" r="4.4" fill="#8620A8"/>
<circle cx="261.7" cy="951.3" r="4.4" fill="#8620A8"/>
<circle cx="263.5" cy="968.3" r="4.4" fill="#8620A8"/>
<circle cx="261.7" cy="980.1" r="4.4" fill="#8620A8"/>
<circle cx="269.1" cy="999.6" r="4.4" fill="#8620A8"/>
<circle cx="261.7" cy="1011.1" r="4.4" fill="#8620A8"/>
<circle cx="254.4" cy="1020.2" r="4.4" fill="#8620A8"/>
<circle cx="272.9" cy="954.3" r="4.4" fill="#8620A8"/>
<circle cx="278.6" cy="983.6" r="4.4" fill="#8620A8"/>
<circle cx="281.9" cy="948.5" r="4.4" fill="#8620A8"/>
<circle cx="280.3" cy="956.6" r="4.4" fill="#8620A8"/>
<circle cx="287.7" cy="959.5" r="4.4" fill="#8620A8"/>
<circle cx="293.1" cy="961.2" r="4.4" fill="#8620A8"/>
<circle cx="291.5" cy="949.3" r="4.4" fill="#8620A8"/>
<circle cx="298.1" cy="943" r="4.4" fill="#8620A8"/>
<circle cx="300.8" cy="948.8" r="4.4" fill="#8620A8"/>
<circle cx="295.2" cy="1002.4" r="4.4" fill="#8620A8"/>
<circle cx="298.7" cy="992.8" r="4.4" fill="#8620A8"/>
<circle cx="304.5" cy="987.6" r="4.4" fill="#8620A8"/>
<circle cx="302" cy="981.4" r="4.4" fill="#8620A8"/>
<circle cx="306.5" cy="978.2" r="4.4" fill="#8620A8"/>
<circle cx="308.8" cy="970.3" r="4.4" fill="#8620A8"/>
<circle cx="307" cy="967.3" r="4.4" fill="#8620A8"/>
<circle cx="312.1" cy="960.4" r="4.4" fill="#8620A8"/>
<circle cx="310.5" cy="955.2" r="4.4" fill="#8620A8"/>
<circle cx="312.1" cy="950.5" r="4.4" fill="#8620A8"/>
<circle cx="313.8" cy="944.7" r="4.4" fill="#8620A8"/>
<circle cx="308.8" cy="941.4" r="4.4" fill="#8620A8"/>
<circle cx="313.8" cy="934.8" r="4.4" fill="#8620A8"/>
<circle cx="322.5" cy="935.2" r="4.4" fill="#8620A8"/>
<circle cx="327.8" cy="930.6" r="4.4" fill="#8620A8"/>
<circle cx="331.9" cy="927.8" r="4.4" fill="#8620A8"/>
<circle cx="282" cy="948.8" r="4.4" fill="#8620A8"/>
<circle cx="286.6" cy="958.7" r="4.4" fill="#8620A8"/>
<circle cx="409.3" cy="874.5" r="4.4" fill="#D94B0E"/>
<circle cx="408.2" cy="879.2" r="4.4" fill="#D94B0E"/>
<circle cx="403.9" cy="884.8" r="4.4" fill="#D94B0E"/>
<circle cx="402.3" cy="891.8" r="4.4" fill="#D94B0E"/>
<circle cx="395.3" cy="895.6" r="4.4" fill="#D94B0E"/>
<circle cx="400" cy="898.4" r="4.4" fill="#D94B0E"/>
<circle cx="396.2" cy="905.9" r="4.4" fill="#D94B0E"/>
<circle cx="392" cy="907.5" r="4.4" fill="#D94B0E"/>
<circle cx="390.7" cy="914.1" r="4.4" fill="#D94B0E"/>
<circle cx="393.4" cy="917.4" r="4.4" fill="#D94B0E"/>
<circle cx="353.9" cy="913.5" r="4.4" fill="#D94B0E"/>
<circle cx="355.6" cy="913.5" r="4.4" fill="#D94B0E"/>
<circle cx="378.5" cy="923.2" r="4.4" fill="#D94B0E"/>
<circle cx="385.5" cy="927.3" r="4.4" fill="#D94B0E"/>
<circle cx="378.2" cy="937.9" r="4.4" fill="#D94B0E"/>
<circle cx="373.1" cy="939.8" r="4.4" fill="#D94B0E"/>
<circle cx="367" cy="942.2" r="4.4" fill="#D94B0E"/>
<circle cx="367" cy="951.5" r="4.4" fill="#D94B0E"/>
<circle cx="357.8" cy="958.2" r="4.4" fill="#D94B0E"/>
<circle cx="350.4" cy="970.6" r="4.4" fill="#D94B0E"/>
<circle cx="326.3" cy="945" r="4.4" fill="#D94B0E"/>
<circle cx="294.8" cy="980.1" r="4.4" fill="#D94B0E"/>
<circle cx="285.7" cy="991.3" r="4.4" fill="#D94B0E"/>
<circle cx="392.9" cy="920" r="4.4" fill="#D94B0E"/>
<circle cx="417" cy="854.4" r="4.4" fill="#3274BB"/>
<circle cx="420.5" cy="854.4" r="4.4" fill="#3274BB"/>
<path d="M132.6,840.1 V1089.1 H447.3" fill="none" stroke="#1a1a1a" stroke-width="2.2"/>
<line x1="132.6" y1="841.3" x2="137.2" y2="841.3" stroke="#1a1a1a" stroke-width="2"/>
<line x1="132.6" y1="882.8" x2="137.2" y2="882.8" stroke="#1a1a1a" stroke-width="2"/>
<line x1="132.6" y1="924" x2="137.2" y2="924" stroke="#1a1a1a" stroke-width="2"/>
<line x1="132.6" y1="965.3" x2="137.2" y2="965.3" stroke="#1a1a1a" stroke-width="2"/>
<line x1="132.6" y1="1006.6" x2="137.2" y2="1006.6" stroke="#1a1a1a" stroke-width="2"/>
<line x1="132.6" y1="1047.9" x2="137.2" y2="1047.9" stroke="#1a1a1a" stroke-width="2"/>
<line x1="169.4" y1="1089.1" x2="169.4" y2="1084.9" stroke="#1a1a1a" stroke-width="2"/>
<line x1="206.2" y1="1089.1" x2="206.2" y2="1084.9" stroke="#1a1a1a" stroke-width="2"/>
<line x1="243" y1="1089.1" x2="243" y2="1084.9" stroke="#1a1a1a" stroke-width="2"/>
<line x1="279.8" y1="1089.1" x2="279.8" y2="1084.9" stroke="#1a1a1a" stroke-width="2"/>
<line x1="316.6" y1="1089.1" x2="316.6" y2="1084.9" stroke="#1a1a1a" stroke-width="2"/>
<line x1="353.4" y1="1089.1" x2="353.4" y2="1084.9" stroke="#1a1a1a" stroke-width="2"/>
<line x1="390.2" y1="1089.1" x2="390.2" y2="1084.9" stroke="#1a1a1a" stroke-width="2"/>
<line x1="427" y1="1089.1" x2="427" y2="1084.9" stroke="#1a1a1a" stroke-width="2"/>
<text x="92.4" y="849.8" font-size="26.2" fill="#333" text-anchor="middle">0.36</text>
<text x="90.4" y="975.4" font-size="26.2" fill="#333" text-anchor="middle">0.3</text>
<text x="90" y="1099.2" font-size="26.2" fill="#333" text-anchor="middle" textLength="45.6" lengthAdjust="spacingAndGlyphs">0.24</text>
<text x="133.4" y="1127.9" font-size="26" fill="#333" text-anchor="middle">80</text>
<text x="431.9" y="1128.4" font-size="26" fill="#333" text-anchor="middle">240</text>
<text x="287.8" y="1146" font-size="26.4" fill="#111" text-anchor="middle">Settling Time (Min)</text>
<text x="0" y="0" font-size="26" fill="#111" text-anchor="middle" transform="translate(51.7,962.5) rotate(-90)">Absolute Disturbance Peak</text>
<rect x="633.2" y="965" width="125" height="125" fill="url(#tg)"/>
<circle cx="692.1" cy="924.3" r="4.4" fill="#EBB000"/>
<circle cx="716" cy="921" r="4.4" fill="#EBB000"/>
<circle cx="738.3" cy="902.6" r="4.4" fill="#EBB000"/>
<circle cx="753.1" cy="915.7" r="4.4" fill="#EBB000"/>
<circle cx="769.6" cy="891.8" r="4.4" fill="#EBB000"/>
<circle cx="769.6" cy="899.6" r="4.4" fill="#EBB000"/>
<circle cx="791" cy="885.3" r="4.4" fill="#EBB000"/>
<circle cx="799.4" cy="889" r="4.4" fill="#EBB000"/>
<circle cx="802.7" cy="894.3" r="4.4" fill="#EBB000"/>
<circle cx="795.7" cy="905.5" r="4.4" fill="#EBB000"/>
<circle cx="810.5" cy="880.8" r="4.4" fill="#EBB000"/>
<circle cx="819.5" cy="882.8" r="4.4" fill="#EBB000"/>
<circle cx="827" cy="884.4" r="4.4" fill="#EBB000"/>
<circle cx="832.7" cy="878.2" r="4.4" fill="#EBB000"/>
<circle cx="834.4" cy="886.4" r="4.4" fill="#EBB000"/>
<circle cx="840.1" cy="888.6" r="4.4" fill="#EBB000"/>
<circle cx="841.8" cy="878.7" r="4.4" fill="#EBB000"/>
<circle cx="854.6" cy="869.6" r="4.4" fill="#EBB000"/>
<circle cx="854.6" cy="878.2" r="4.4" fill="#EBB000"/>
<circle cx="865.7" cy="868" r="4.4" fill="#EBB000"/>
<circle cx="869.8" cy="869.3" r="4.4" fill="#EBB000"/>
<circle cx="873.1" cy="864.7" r="4.4" fill="#EBB000"/>
<circle cx="882.2" cy="863.3" r="4.4" fill="#EBB000"/>
<circle cx="889.6" cy="860" r="4.4" fill="#EBB000"/>
<circle cx="895.8" cy="858.4" r="4.4" fill="#EBB000"/>
<circle cx="889.6" cy="882.8" r="4.4" fill="#8620A8"/>
<circle cx="884.1" cy="888.6" r="4.4" fill="#8620A8"/>
<circle cx="874.7" cy="897.6" r="4.4" fill="#8620A8"/>
<circle cx="867.3" cy="902.6" r="4.4" fill="#8620A8"/>
<circle cx="860.4" cy="910.8" r="4.4" fill="#8620A8"/>
<circle cx="862.4" cy="913.3" r="4.4" fill="#8620A8"/>
<circle cx="845.6" cy="917.4" r="4.4" fill="#8620A8"/>
<circle cx="846.7" cy="924.8" r="4.4" fill="#8620A8"/>
<circle cx="836" cy="928.5" r="4.4" fill="#8620A8"/>
<circle cx="826.8" cy="929.4" r="4.4" fill="#8620A8"/>
<circle cx="808.3" cy="937.6" r="4.4" fill="#8620A8"/>
<circle cx="815.7" cy="940.6" r="4.4" fill="#8620A8"/>
<circle cx="823.2" cy="943.1" r="4.4" fill="#8620A8"/>
<circle cx="828.8" cy="945.4" r="4.4" fill="#8620A8"/>
<circle cx="832.6" cy="947.7" r="4.4" fill="#8620A8"/>
<circle cx="795.5" cy="949" r="4.4" fill="#8620A8"/>
<circle cx="801.3" cy="956.1" r="4.4" fill="#8620A8"/>
<circle cx="801.3" cy="966" r="4.4" fill="#8620A8"/>
<circle cx="778.9" cy="965.4" r="4.4" fill="#8620A8"/>
<circle cx="778.9" cy="979.9" r="4.4" fill="#8620A8"/>
<circle cx="795.3" cy="986.4" r="4.4" fill="#8620A8"/>
<circle cx="755" cy="989.6" r="4.4" fill="#8620A8"/>
<circle cx="765.7" cy="1008.3" r="4.4" fill="#8620A8"/>
<circle cx="740.1" cy="1022.3" r="4.4" fill="#8620A8"/>
<circle cx="717.9" cy="1031.3" r="4.4" fill="#8620A8"/>
<circle cx="910.2" cy="870.9" r="4.4" fill="#D94B0E"/>
<circle cx="908.5" cy="880.6" r="4.4" fill="#D94B0E"/>
<circle cx="904.4" cy="888.1" r="4.4" fill="#D94B0E"/>
<circle cx="901.1" cy="892.7" r="4.4" fill="#D94B0E"/>
<circle cx="898.3" cy="900.1" r="4.4" fill="#D94B0E"/>
<circle cx="892" cy="905" r="4.4" fill="#D94B0E"/>
<circle cx="891.2" cy="910.8" r="4.4" fill="#D94B0E"/>
<circle cx="887.1" cy="913.3" r="4.4" fill="#D94B0E"/>
<circle cx="882.2" cy="915.7" r="4.4" fill="#D94B0E"/>
<circle cx="877.3" cy="924" r="4.4" fill="#D94B0E"/>
<circle cx="882.3" cy="927.3" r="4.4" fill="#D94B0E"/>
<circle cx="886.4" cy="930" r="4.4" fill="#D94B0E"/>
<circle cx="869.3" cy="934.2" r="4.4" fill="#D94B0E"/>
<circle cx="871.6" cy="939.9" r="4.4" fill="#D94B0E"/>
<circle cx="871.3" cy="948" r="4.4" fill="#D94B0E"/>
<circle cx="862.1" cy="949.4" r="4.4" fill="#D94B0E"/>
<circle cx="860.1" cy="961.2" r="4.4" fill="#D94B0E"/>
<circle cx="865.9" cy="965.3" r="4.4" fill="#D94B0E"/>
<circle cx="849.1" cy="971.4" r="4.4" fill="#D94B0E"/>
<circle cx="851.1" cy="986.7" r="4.4" fill="#D94B0E"/>
<circle cx="838.2" cy="1000.4" r="4.4" fill="#D94B0E"/>
<circle cx="825.1" cy="1010.1" r="4.4" fill="#D94B0E"/>
<circle cx="915.2" cy="850.3" r="4.4" fill="#3274BB"/>
<circle cx="917.6" cy="850.3" r="4.4" fill="#3274BB"/>
<path d="M633.2,841.3 V1090 H950" fill="none" stroke="#1a1a1a" stroke-width="2.2"/>
<line x1="633.2" y1="883.3" x2="637.8" y2="883.3" stroke="#1a1a1a" stroke-width="2"/>
<line x1="633.2" y1="924.5" x2="637.8" y2="924.5" stroke="#1a1a1a" stroke-width="2"/>
<line x1="633.2" y1="966" x2="637.8" y2="966" stroke="#1a1a1a" stroke-width="2"/>
<line x1="633.2" y1="1007" x2="637.8" y2="1007" stroke="#1a1a1a" stroke-width="2"/>
<line x1="633.2" y1="1048.5" x2="637.8" y2="1048.5" stroke="#1a1a1a" stroke-width="2"/>
<line x1="669.9" y1="1090" x2="669.9" y2="1085.8" stroke="#1a1a1a" stroke-width="2"/>
<line x1="706.7" y1="1090" x2="706.7" y2="1085.8" stroke="#1a1a1a" stroke-width="2"/>
<line x1="743.5" y1="1090" x2="743.5" y2="1085.8" stroke="#1a1a1a" stroke-width="2"/>
<line x1="780.3" y1="1090" x2="780.3" y2="1085.8" stroke="#1a1a1a" stroke-width="2"/>
<line x1="817.1" y1="1090" x2="817.1" y2="1085.8" stroke="#1a1a1a" stroke-width="2"/>
<line x1="853.9" y1="1090" x2="853.9" y2="1085.8" stroke="#1a1a1a" stroke-width="2"/>
<line x1="890.7" y1="1090" x2="890.7" y2="1085.8" stroke="#1a1a1a" stroke-width="2"/>
<line x1="927.5" y1="1090" x2="927.5" y2="1085.8" stroke="#1a1a1a" stroke-width="2"/>
<line x1="632" y1="836.9" x2="637.2" y2="836.9" stroke="#1a1a1a" stroke-width="2"/>
<text x="589.55" y="844.8" font-size="26.2" fill="#333" text-anchor="middle">0.36</text>
<text x="587.95" y="975.4" font-size="26.2" fill="#333" text-anchor="middle">0.3</text>
<text x="586.75" y="1100" font-size="26.2" fill="#333" text-anchor="middle">0.24</text>
<text x="630.4" y="1127.9" font-size="26" fill="#333" text-anchor="middle">80</text>
<text x="929.5" y="1128.4" font-size="26" fill="#333" text-anchor="middle">240</text>
<text x="784.6" y="1146" font-size="26.4" fill="#111" text-anchor="middle">Settling Time (Min)</text>
<text x="0" y="0" font-size="26" fill="#111" text-anchor="middle" transform="translate(548.8,962.5) rotate(-90)">Absolute Disturbance Peak</text>
<rect x="291.4" y="564" width="477.1" height="60" fill="none" stroke="#222" stroke-width="1.4"/>
<circle cx="323.1" cy="597" r="5.8" fill="#3274BB"/>
<circle cx="323.1" cy="597" r="1.5" fill="#fff"/>
<circle cx="439.5" cy="597" r="5.8" fill="#D94B0E"/>
<circle cx="439.5" cy="597" r="1.5" fill="#fff"/>
<circle cx="526.4" cy="597" r="5.8" fill="#EBB000"/>
<circle cx="526.4" cy="597" r="1.5" fill="#fff"/>
<circle cx="638.4" cy="597" r="5.8" fill="#8620A8"/>
<circle cx="638.4" cy="597" r="1.5" fill="#fff"/>
<text x="337.5" y="603.6" font-size="30.6" fill="#111" text-anchor="start">open</text>
<text x="455.2" y="603.6" font-size="30.6" fill="#111" text-anchor="start" font-style="italic">cis</text>
<text x="541.8" y="603.6" font-size="30.6" fill="#111" text-anchor="start" font-style="italic">trans</text>
<text x="651.3" y="603.6" font-size="30.6" fill="#111" text-anchor="start">layered</text>
<polygon points="140.7,1223.4 154.3,1237 140.7,1250.6 127.1,1237" fill="#5096C9"/>
<rect x="129.6" y="1257.2" width="22" height="22" fill="none" stroke="#E0381C" stroke-width="2.1"/>
<rect x="129.6" y="1288.6" width="22" height="22" fill="none" stroke="#F29100" stroke-width="2.1"/>
<circle cx="424.3" cy="1236.6" r="12.2" fill="#F29100"/>
<circle cx="424.3" cy="1268.1" r="12.2" fill="#DF3014"/>
<rect x="413.6" y="1288.5" width="22" height="22" fill="#E0B3E3" stroke="#C064CB" stroke-width="2.1"/>
<circle cx="708" cy="1236.6" r="11.15" fill="none" stroke="#C064CB" stroke-width="2.1"/>
<polygon points="708,1255.6 721.4,1277.4 694.6,1277.4" fill="none" stroke="#C064CB" stroke-width="2.3" stroke-linejoin="miter"/>
<polygon points="708,1286.4 721.4,1308.2 694.6,1308.2" fill="#E0B3E3" stroke="#C064CB" stroke-width="2.3" stroke-linejoin="miter"/>
<text x="166.5" y="1243.4" font-size="26.3" fill="#111" text-anchor="start">Open loop</text>
<text x="166.5" y="1274.3" font-size="26.3" fill="#111" text-anchor="start">Protein <tspan font-style="italic">cis</tspan></text>
<text x="166.5" y="1305.2" font-size="26.3" fill="#111" text-anchor="start">Protein <tspan font-style="italic">trans</tspan></text>
<text x="450" y="1243.4" font-size="26.3" fill="#111" text-anchor="start">sRNA <tspan font-style="italic">trans</tspan></text>
<text x="450" y="1274.3" font-size="26.3" fill="#111" text-anchor="start">sRNA <tspan font-style="italic">cis</tspan></text>
<text x="450" y="1305.2" font-size="26.3" fill="#111" text-anchor="start">PP layered</text>
<text x="734.5" y="1243.4" font-size="26.3" fill="#111" text-anchor="start">RR layered</text>
<text x="734.5" y="1274.3" font-size="26.3" fill="#111" text-anchor="start">R<tspan font-style="italic">cis</tspan>P<tspan font-style="italic">trans</tspan> layered</text>
<text x="734.5" y="1305.2" font-size="26.3" fill="#111" text-anchor="start">R<tspan font-style="italic">trans</tspan>P<tspan font-style="italic">cis</tspan> layered</text>
<polygon points="642.7,1384.7 657.5,1399.5 642.7,1414.3 627.9,1399.5" fill="#5096C9"/>
<polygon points="770.1,1452.5 784.9,1467.3 770.1,1482.1 755.3,1467.3" fill="#5096C9"/>
<polygon points="775.9,1454.2 790.7,1469 775.9,1483.8 761.1,1469" fill="#5096C9"/>
<polygon points="775.9,1461.1 790.7,1475.9 775.9,1490.7 761.1,1475.9" fill="#5096C9"/>
<polygon points="856.7,1535.6 871.5,1550.4 856.7,1565.2 841.9,1550.4" fill="#5096C9"/>
<polygon points="914.5,1513.5 929.3,1528.3 914.5,1543.1 899.7,1528.3" fill="#5096C9"/>
<rect x="493.2" y="1524.5" width="22" height="22" fill="none" stroke="#E0381C" stroke-width="2.1"/>
<rect x="568.2" y="1628.2" width="22" height="22" fill="none" stroke="#E0381C" stroke-width="2.1"/>
<rect x="562.4" y="1639" width="22" height="22" fill="none" stroke="#E0381C" stroke-width="2.1"/>
<rect x="556.7" y="1664.9" width="22" height="22" fill="none" stroke="#E0381C" stroke-width="2.1"/>
<rect x="654.7" y="1693.8" width="22" height="22" fill="none" stroke="#E0381C" stroke-width="2.1"/>
<rect x="753.2" y="1683.4" width="22" height="22" fill="none" stroke="#E0381C" stroke-width="2.1"/>
<rect x="313.5" y="1446.4" width="22" height="22" fill="none" stroke="#F29100" stroke-width="2.1"/>
<rect x="278.7" y="1520.6" width="22" height="22" fill="none" stroke="#F29100" stroke-width="2.1"/>
<rect x="278.7" y="1537.9" width="22" height="22" fill="none" stroke="#F29100" stroke-width="2.1"/>
<rect x="313.5" y="1519.3" width="22" height="22" fill="none" stroke="#F29100" stroke-width="2.1"/>
<rect x="412" y="1583.7" width="22" height="22" fill="none" stroke="#F29100" stroke-width="2.1"/>
<rect x="499" y="1573.2" width="22" height="22" fill="none" stroke="#F29100" stroke-width="2.1"/>
<circle cx="405.6" cy="1600.8" r="12.2" fill="#F29100"/>
<circle cx="446" cy="1722.4" r="12.2" fill="#F29100"/>
<circle cx="492.1" cy="1673" r="12.2" fill="#F29100"/>
<circle cx="509.4" cy="1663.8" r="12.2" fill="#F29100"/>
<circle cx="556.1" cy="1729" r="12.2" fill="#F29100"/>
<circle cx="596.5" cy="1730.7" r="12.2" fill="#F29100"/>
<circle cx="527.3" cy="1718.1" r="12.2" fill="#DF3014"/>
<circle cx="636.8" cy="1816.9" r="12.2" fill="#DF3014"/>
<circle cx="648.6" cy="1809.4" r="12.2" fill="#DF3014"/>
<circle cx="608" cy="1893.9" r="12.2" fill="#DF3014"/>
<circle cx="700.5" cy="1892.5" r="12.2" fill="#DF3014"/>
<circle cx="746.7" cy="1900.5" r="12.2" fill="#DF3014"/>
<rect x="232.8" y="1586.8" width="22" height="22" fill="#E0B3E3" stroke="#C064CB" stroke-width="2.1"/>
<rect x="209.7" y="1695.1" width="22" height="22" fill="#E0B3E3" stroke="#C064CB" stroke-width="2.1"/>
<rect x="255.9" y="1674.7" width="22" height="22" fill="#E0B3E3" stroke="#C064CB" stroke-width="2.1"/>
<rect x="226.8" y="1725.1" width="22" height="22" fill="#E0B3E3" stroke="#C064CB" stroke-width="2.1"/>
<rect x="365.5" y="1716.5" width="22" height="22" fill="#E0B3E3" stroke="#C064CB" stroke-width="2.1"/>
<rect x="435" y="1746.9" width="22" height="22" fill="#E0B3E3" stroke="#C064CB" stroke-width="2.1"/>
<circle cx="370.4" cy="1812.1" r="10.95" fill="none" stroke="#C064CB" stroke-width="2.1"/>
<circle cx="411.3" cy="1977.9" r="10.95" fill="none" stroke="#C064CB" stroke-width="2.1"/>
<circle cx="463.3" cy="1900.9" r="10.95" fill="none" stroke="#C064CB" stroke-width="2.1"/>
<circle cx="481.1" cy="1889.7" r="10.95" fill="none" stroke="#C064CB" stroke-width="2.1"/>
<circle cx="515.7" cy="1958" r="10.95" fill="none" stroke="#C064CB" stroke-width="2.1"/>
<circle cx="567.6" cy="1971.9" r="10.95" fill="none" stroke="#C064CB" stroke-width="2.1"/>
<polygon points="330.6,1724.7 344,1746.5 317.2,1746.5" fill="none" stroke="#C064CB" stroke-width="2.3" stroke-linejoin="miter"/>
<polygon points="347.9,1808.6 361.3,1830.4 334.5,1830.4" fill="none" stroke="#C064CB" stroke-width="2.3" stroke-linejoin="miter"/>
<polygon points="388.3,1815.1 401.7,1836.9 374.9,1836.9" fill="none" stroke="#C064CB" stroke-width="2.3" stroke-linejoin="miter"/>
<polygon points="359.4,1892.2 372.8,1914 346,1914" fill="none" stroke="#C064CB" stroke-width="2.3" stroke-linejoin="miter"/>
<polygon points="486.9,1879.3 500.3,1901.1 473.5,1901.1" fill="none" stroke="#C064CB" stroke-width="2.3" stroke-linejoin="miter"/>
<polygon points="527.3,1897.4 540.7,1919.2 513.9,1919.2" fill="none" stroke="#C064CB" stroke-width="2.3" stroke-linejoin="miter"/>
<polygon points="342.1,1684.9 355.5,1706.7 328.7,1706.7" fill="#E0B3E3" stroke="#C064CB" stroke-width="2.3" stroke-linejoin="miter"/>
<polygon points="411.3,1771.8 424.7,1793.6 397.9,1793.6" fill="#E0B3E3" stroke="#C064CB" stroke-width="2.3" stroke-linejoin="miter"/>
<polygon points="411.3,1779.7 424.7,1801.5 397.9,1801.5" fill="#E0B3E3" stroke="#C064CB" stroke-width="2.3" stroke-linejoin="miter"/>
<polygon points="382.5,1833.4 395.9,1855.2 369.1,1855.2" fill="#E0B3E3" stroke="#C064CB" stroke-width="2.3" stroke-linejoin="miter"/>
<polygon points="481.1,1813.3 494.5,1835.1 467.7,1835.1" fill="#E0B3E3" stroke="#C064CB" stroke-width="2.3" stroke-linejoin="miter"/>
<polygon points="544.6,1835.9 558,1857.7 531.2,1857.7" fill="#E0B3E3" stroke="#C064CB" stroke-width="2.3" stroke-linejoin="miter"/>
<rect x="156.8" y="1341.3" width="809.8" height="708.7" fill="none" stroke="#000" stroke-width="2.3"/>
<line x1="139.3" y1="2050" x2="156.8" y2="2050" stroke="#000" stroke-width="2.3"/>
<text x="133.6" y="2057.3" font-size="25.5" fill="#111" text-anchor="end">0.26</text>
<line x1="148.2" y1="1995.46" x2="156.8" y2="1995.46" stroke="#000" stroke-width="2.3"/>
<line x1="139.3" y1="1940.92" x2="156.8" y2="1940.92" stroke="#000" stroke-width="2.3"/>
<text x="133.6" y="1948.22" font-size="25.5" fill="#111" text-anchor="end">0.28</text>
<line x1="148.2" y1="1886.38" x2="156.8" y2="1886.38" stroke="#000" stroke-width="2.3"/>
<line x1="139.3" y1="1831.84" x2="156.8" y2="1831.84" stroke="#000" stroke-width="2.3"/>
<text x="133.6" y="1839.14" font-size="25.5" fill="#111" text-anchor="end">0.30</text>
<line x1="148.2" y1="1777.3" x2="156.8" y2="1777.3" stroke="#000" stroke-width="2.3"/>
<line x1="139.3" y1="1722.76" x2="156.8" y2="1722.76" stroke="#000" stroke-width="2.3"/>
<text x="133.6" y="1730.06" font-size="25.5" fill="#111" text-anchor="end">0.32</text>
<line x1="148.2" y1="1668.22" x2="156.8" y2="1668.22" stroke="#000" stroke-width="2.3"/>
<line x1="139.3" y1="1613.68" x2="156.8" y2="1613.68" stroke="#000" stroke-width="2.3"/>
<text x="133.6" y="1620.98" font-size="25.5" fill="#111" text-anchor="end">0.34</text>
<line x1="148.2" y1="1559.14" x2="156.8" y2="1559.14" stroke="#000" stroke-width="2.3"/>
<line x1="139.3" y1="1504.6" x2="156.8" y2="1504.6" stroke="#000" stroke-width="2.3"/>
<text x="133.6" y="1511.9" font-size="25.5" fill="#111" text-anchor="end">0.36</text>
<line x1="148.2" y1="1450.06" x2="156.8" y2="1450.06" stroke="#000" stroke-width="2.3"/>
<line x1="139.3" y1="1395.52" x2="156.8" y2="1395.52" stroke="#000" stroke-width="2.3"/>
<text x="133.6" y="1402.82" font-size="25.5" fill="#111" text-anchor="end">0.38</text>
<line x1="156.8" y1="2050" x2="156.8" y2="2058.5" stroke="#000" stroke-width="2.3"/>
<line x1="214.67" y1="2050" x2="214.67" y2="2067.3" stroke="#000" stroke-width="2.3"/>
<text x="214.97" y="2089.2" font-size="25.5" fill="#111" text-anchor="middle">120</text>
<line x1="272.54" y1="2050" x2="272.54" y2="2058.5" stroke="#000" stroke-width="2.3"/>
<line x1="330.41" y1="2050" x2="330.41" y2="2067.3" stroke="#000" stroke-width="2.3"/>
<text x="330.71" y="2089.2" font-size="25.5" fill="#111" text-anchor="middle">140</text>
<line x1="388.28" y1="2050" x2="388.28" y2="2058.5" stroke="#000" stroke-width="2.3"/>
<line x1="446.15" y1="2050" x2="446.15" y2="2067.3" stroke="#000" stroke-width="2.3"/>
<text x="446.45" y="2089.2" font-size="25.5" fill="#111" text-anchor="middle">160</text>
<line x1="504.02" y1="2050" x2="504.02" y2="2058.5" stroke="#000" stroke-width="2.3"/>
<line x1="561.89" y1="2050" x2="561.89" y2="2067.3" stroke="#000" stroke-width="2.3"/>
<text x="562.19" y="2089.2" font-size="25.5" fill="#111" text-anchor="middle">180</text>
<line x1="619.76" y1="2050" x2="619.76" y2="2058.5" stroke="#000" stroke-width="2.3"/>
<line x1="677.63" y1="2050" x2="677.63" y2="2067.3" stroke="#000" stroke-width="2.3"/>
<text x="677.93" y="2089.2" font-size="25.5" fill="#111" text-anchor="middle">200</text>
<line x1="735.5" y1="2050" x2="735.5" y2="2058.5" stroke="#000" stroke-width="2.3"/>
<line x1="793.37" y1="2050" x2="793.37" y2="2067.3" stroke="#000" stroke-width="2.3"/>
<text x="793.67" y="2089.2" font-size="25.5" fill="#111" text-anchor="middle">220</text>
<line x1="851.24" y1="2050" x2="851.24" y2="2058.5" stroke="#000" stroke-width="2.3"/>
<line x1="909.11" y1="2050" x2="909.11" y2="2067.3" stroke="#000" stroke-width="2.3"/>
<text x="909.41" y="2089.2" font-size="25.5" fill="#111" text-anchor="middle">240</text>
<line x1="966.98" y1="2050" x2="966.98" y2="2058.5" stroke="#000" stroke-width="2.3"/>
<text x="554.2" y="2146" font-size="30.2" fill="#111" text-anchor="middle">Settling Time (Min)</text>
<text x="0" y="0" font-size="30.5" fill="#111" text-anchor="middle" transform="translate(22.4,1672.2) rotate(-90)">Absolute Disturbance Peak</text>
</svg>
</body></html>
